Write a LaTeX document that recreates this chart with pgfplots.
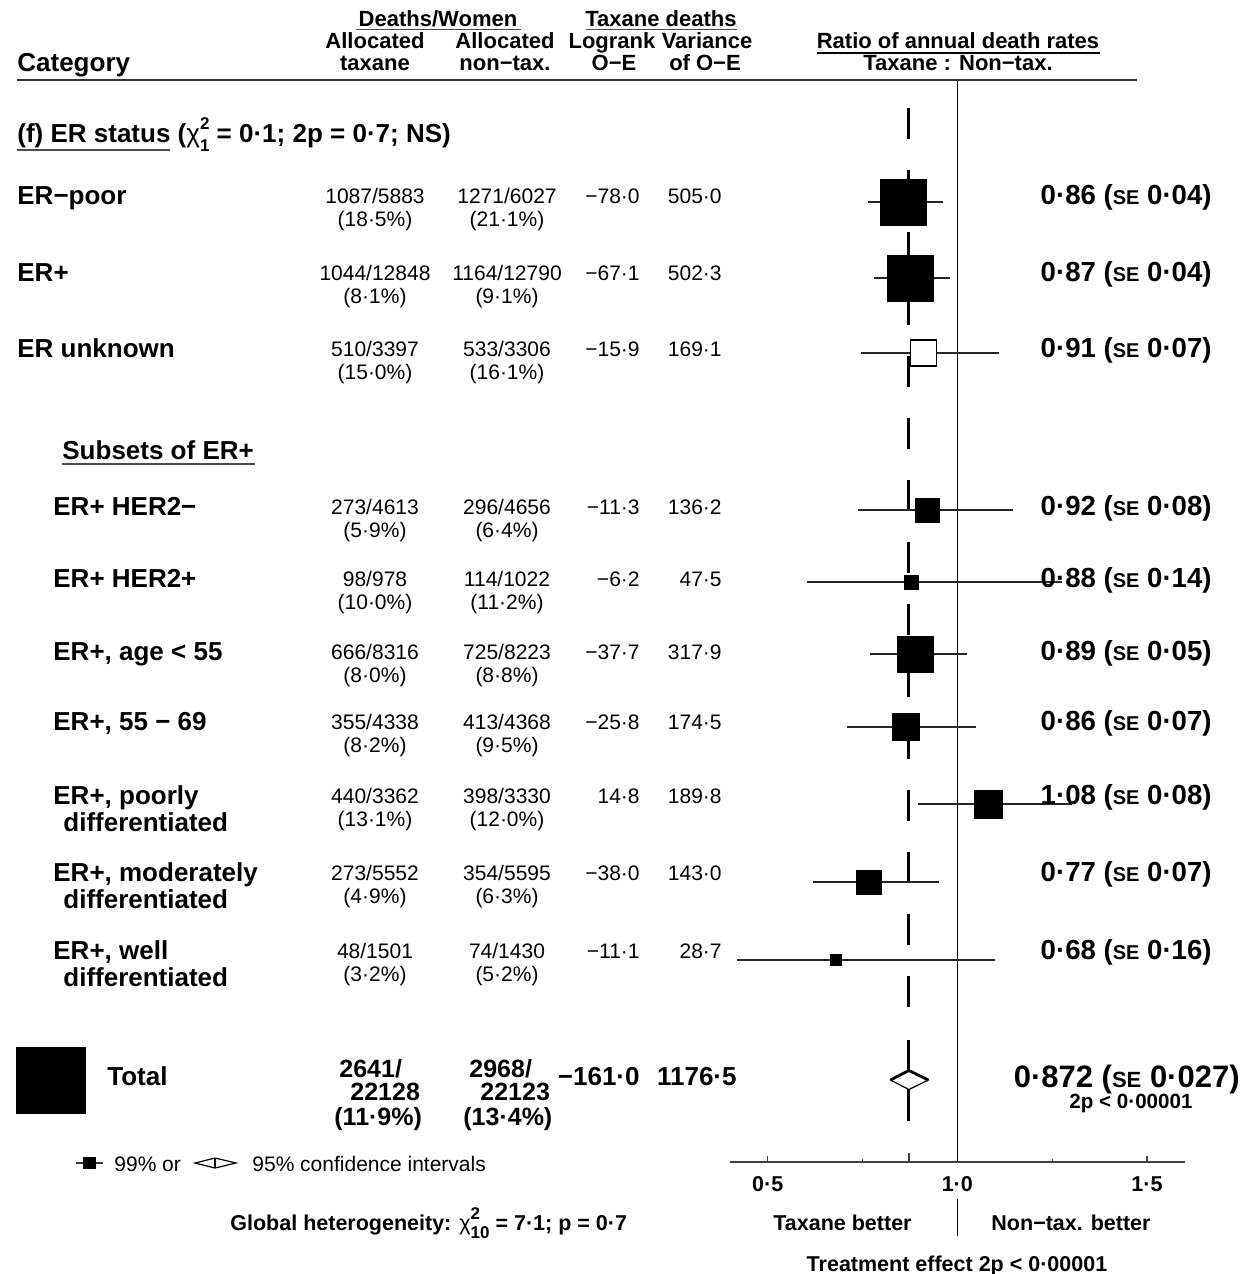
\documentclass[border=0pt]{standalone}
\usepackage{fontspec}
\setmainfont{Liberation Sans}
\usepackage{pgfplots}
\pgfplotsset{compat=1.18}
\newcommand\fs[1]{\fontsize{#1}{#1}\selectfont}
\newcommand\SE{{\fs{10}SE}}
\newcommand\SEb{{\fs{11}SE}}
% chi with stacked super/subscript
\newcommand\chis[2]{{\mdseries χ}\rlap{\raisebox{0.48em}{\fs{8.5}\bfseries #1}}\raisebox{-0.38em}{\fs{8.5}\bfseries #2}}
\tikzset{
 lab/.style={anchor=base west,inner sep=0,font={\fs{13}\bfseries}},
 tot/.style={anchor=base west,inner sep=0,font={\fs{12.5}\bfseries}},
 num/.style={anchor=base,inner sep=0,font={\fs{10.5}}},
 numr/.style={anchor=base east,inner sep=0,font={\fs{10.5}}},
 res/.style={anchor=base east,inner sep=0,font={\fs{13.8}\bfseries}},
 hd/.style={anchor=base,inner sep=0,font={\fs{11}\bfseries}},
 ax/.style={anchor=base,inner sep=0,font={\fs{10.75}\bfseries}},
}
\newcommand\nrow[7]{%
 \node[num] at (axis cs:375,#1) {#2};
 \node[num] at (axis cs:375,#1+23) {#3};
 \node[num] at (axis cs:507,#1) {#4};
 \node[num] at (axis cs:507,#1+23) {#5};
 \node[numr] at (axis cs:640,#1) {#6};
 \node[numr] at (axis cs:722,#1) {#7};}
\begin{document}
\begin{tikzpicture}
\useasboundingbox (0,0) rectangle (622.5pt,637pt);
% ---------------- data axis: ratio of annual death rates ----------------
\begin{axis}[at={(0,0)},anchor=south west,scale only axis,width=622.5pt,height=637pt,
 xmin=-1.52403,xmax=1.75837,ymin=0,ymax=1274,y dir=reverse,hide axis,clip=false]
 % overall estimate (dashed) and no-effect line
 \addplot[black,line width=1.5pt,dash pattern=on 15.5pt off 15.5pt] coordinates {(0.8721,108) (0.8721,1008)};
 \addplot[black,line width=1.5pt] coordinates {(0.8721,1040) (0.8721,1121)};
 \addplot[black,line width=0.7pt] coordinates {(1,80) (1,1162)};
 % bottom axis and ticks
 \addplot[black!75,line width=0.7pt] coordinates {(0.4,1162) (1.6,1162)};
 \addplot[black!75,line width=0.7pt] coordinates {(0.5,1156) (0.5,1162)};
 \addplot[black!75,line width=0.7pt] coordinates {(1.5,1156) (1.5,1162)};
 \addplot[black!75,line width=0.7pt] coordinates {(0.75,1159) (0.75,1162)};
 \addplot[black!75,line width=0.7pt] coordinates {(1.25,1159) (1.25,1162)};
 \addplot[black!75,line width=0.7pt] coordinates {(0.8721,1152.5) (0.8721,1162)};
 \addplot[black,line width=0.7pt] coordinates {(1,1199) (1,1236)};
 % 99% confidence intervals
 \addplot[black!85,line width=0.65pt] coordinates {(0.7641,202) (0.9610,202)};
 \addplot[black!85,line width=0.65pt] coordinates {(0.7800,278) (0.9815,278)};
 \addplot[black!85,line width=0.65pt] coordinates {(0.7467,353) (1.1097,353)};
 \addplot[black!85,line width=0.65pt] coordinates {(0.7381,510) (1.1477,510)};
 \addplot[black!85,line width=0.65pt] coordinates {(0.6039,582) (1.2754,582)};
 \addplot[black!85,line width=0.65pt] coordinates {(0.7687,654) (1.0262,654)};
 \addplot[black!85,line width=0.65pt] coordinates {(0.7097,727) (1.0483,727)};
 \addplot[black!85,line width=0.65pt] coordinates {(0.8967,804) (1.3034,804)};
 \addplot[black!85,line width=0.65pt] coordinates {(0.6181,882) (0.9509,882)};
 \addplot[black!85,line width=0.65pt] coordinates {(0.4200,960) (1.0987,960)};
 % boxes (area proportional to variance)
 \addplot[only marks,mark=square*,mark size=11.50pt,mark options={fill=black,draw=black,line width=0.2pt}] coordinates {(0.8569,202)};
 \addplot[only marks,mark=square*,mark size=11.47pt,mark options={fill=black,draw=black,line width=0.2pt}] coordinates {(0.8750,278)};
 \addplot[only marks,mark=square*,mark size=6.50pt,mark options={fill=white,draw=black,line width=0.6pt}] coordinates {(0.9103,353)};
 \addplot[only marks,mark=square*,mark size=5.97pt,mark options={fill=black,draw=black,line width=0.2pt}] coordinates {(0.9204,510)};
 \addplot[only marks,mark=square*,mark size=3.53pt,mark options={fill=black,draw=black,line width=0.2pt}] coordinates {(0.8776,582)};
 \addplot[only marks,mark=square*,mark size=9.13pt,mark options={fill=black,draw=black,line width=0.2pt}] coordinates {(0.8882,654)};
 \addplot[only marks,mark=square*,mark size=6.76pt,mark options={fill=black,draw=black,line width=0.2pt}] coordinates {(0.8626,727)};
 \addplot[only marks,mark=square*,mark size=7.05pt,mark options={fill=black,draw=black,line width=0.2pt}] coordinates {(1.0811,804)};
 \addplot[only marks,mark=square*,mark size=6.12pt,mark options={fill=black,draw=black,line width=0.2pt}] coordinates {(0.7666,882)};
 \addplot[only marks,mark=square*,mark size=2.74pt,mark options={fill=black,draw=black,line width=0.2pt}] coordinates {(0.6792,960)};
 % total: 95% CI diamond
 \addplot[fill=white,draw=black,line width=0.6pt] coordinates {(0.8237,1080) (0.8721,1070.5) (0.9234,1080) (0.8721,1089.5)} --cycle;
 \addplot[black,line width=1.4pt] coordinates {(0.8237,1080) (0.8721,1070.5) (0.9234,1080)};
\end{axis}
% ---------------- text axis (pixel units) ----------------
\begin{axis}[at={(0,0)},anchor=south west,scale only axis,width=622.5pt,height=637pt,
 xmin=0,xmax=1245,ymin=0,ymax=1274,y dir=reverse,hide axis,clip=false]
 % header
 \node[lab] at (axis cs:17,71) {Category};
 \node[hd] at (axis cs:438,26) {Deaths/Women};
 \draw[black!70,line width=0.6pt] (axis cs:356,29.5) -- (axis cs:521,29.5);
 \node[hd] at (axis cs:661,26) {Taxane deaths};
 \draw[black!70,line width=0.6pt] (axis cs:586,29.5) -- (axis cs:737,29.5);
 \node[hd] at (axis cs:375,48) {Allocated};
 \node[hd] at (axis cs:375,70) {taxane};
 \node[hd] at (axis cs:505,48) {Allocated};
 \node[hd] at (axis cs:505,70) {non−tax.};
 \node[hd] at (axis cs:612,48) {Logrank};
 \node[hd] at (axis cs:614,70) {O−E};
 \node[hd] at (axis cs:707,48) {Variance};
 \node[hd] at (axis cs:705,70) {of O−E};
 \node[hd] at (axis cs:958,48) {Ratio of annual death rates};
 \draw[black,line width=0.7pt] (axis cs:817,53) -- (axis cs:1100,53);
 \node[hd] at (axis cs:958,70) {Taxane : Non−tax.};
 \draw[black!80,line width=0.7pt] (axis cs:17,80) -- (axis cs:1137,80);
 % section heading
 \node[lab] at (axis cs:17,142) {(f) ER status (\chis{2}{1} = 0·1; 2p = 0·7; NS)};
 \draw[black!70,line width=0.7pt] (axis cs:17,150) -- (axis cs:170,150);
 \node[lab] at (axis cs:62,459) {Subsets of ER+};
 \draw[black!70,line width=0.7pt] (axis cs:62,464) -- (axis cs:255,464);
 % row labels
 \node[lab] at (axis cs:17,204) {ER−poor};
 \node[lab] at (axis cs:17,281) {ER+};
 \node[lab] at (axis cs:17,357) {ER unknown};
 \node[lab] at (axis cs:53,515) {ER+ HER2−};
 \node[lab] at (axis cs:53,587) {ER+ HER2+};
 \node[lab] at (axis cs:53,660) {ER+, age < 55};
 \node[lab] at (axis cs:53,730) {ER+, 55 − 69};
 \node[lab] at (axis cs:53,804) {ER+, poorly};
 \node[lab] at (axis cs:63,831) {differentiated};
 \node[lab] at (axis cs:53,881) {ER+, moderately};
 \node[lab] at (axis cs:63,908) {differentiated};
 \node[lab] at (axis cs:53,959) {ER+, well};
 \node[lab] at (axis cs:63,986) {differentiated};
 % numbers
 \nrow{203}{1087/5883}{(18·5\%)}{1271/6027}{(21·1\%)}{−78·0}{505·0}
 \nrow{280}{1044/12848}{(8·1\%)}{1164/12790}{(9·1\%)}{−67·1}{502·3}
 \nrow{356}{510/3397}{(15·0\%)}{533/3306}{(16·1\%)}{−15·9}{169·1}
 \nrow{514}{273/4613}{(5·9\%)}{296/4656}{(6·4\%)}{−11·3}{136·2}
 \nrow{586}{98/978}{(10·0\%)}{114/1022}{(11·2\%)}{−6·2}{47·5}
 \nrow{659}{666/8316}{(8·0\%)}{725/8223}{(8·8\%)}{−37·7}{317·9}
 \nrow{729}{355/4338}{(8·2\%)}{413/4368}{(9·5\%)}{−25·8}{174·5}
 \nrow{803}{440/3362}{(13·1\%)}{398/3330}{(12·0\%)}{14·8}{189·8}
 \nrow{880}{273/5552}{(4·9\%)}{354/5595}{(6·3\%)}{−38·0}{143·0}
 \nrow{958}{48/1501}{(3·2\%)}{74/1430}{(5·2\%)}{−11·1}{28·7}
 % results
 \node[res] at (axis cs:1212,204) {0·86 (\SE\ 0·04)};
 \node[res] at (axis cs:1212,281) {0·87 (\SE\ 0·04)};
 \node[res] at (axis cs:1212,357) {0·91 (\SE\ 0·07)};
 \node[res] at (axis cs:1212,515) {0·92 (\SE\ 0·08)};
 \node[res] at (axis cs:1212,587) {0·88 (\SE\ 0·14)};
 \node[res] at (axis cs:1212,660) {0·89 (\SE\ 0·05)};
 \node[res] at (axis cs:1212,730) {0·86 (\SE\ 0·07)};
 \node[res] at (axis cs:1212,804) {1·08 (\SE\ 0·08)};
 \node[res] at (axis cs:1212,881) {0·77 (\SE\ 0·07)};
 \node[res] at (axis cs:1212,959) {0·68 (\SE\ 0·16)};
 % total row
 \addplot[fill=black,draw=none] coordinates {(16,1047) (86,1047) (86,1114) (16,1114)} --cycle;
 \node[lab] at (axis cs:107,1085) {Total};
 \node[tot] at (axis cs:339,1077) {2641/};
 \node[tot] at (axis cs:350,1100) {22128};
 \node[tot] at (axis cs:334,1125) {(11·9\%)};
 \node[tot] at (axis cs:469,1077) {2968/};
 \node[tot] at (axis cs:480,1100) {22123};
 \node[tot] at (axis cs:463,1125) {(13·4\%)};
 \node[lab,anchor=base east] at (axis cs:640,1085) {−161·0};
 \node[lab,anchor=base east] at (axis cs:737,1085) {1176·5};
 \node[anchor=base east,inner sep=0,font={\fs{15.5}\bfseries}] at (axis cs:1240,1087) {0·872 (\SEb\ 0·027)};
 \node[anchor=base,inner sep=0,font={\fs{10.3}\bfseries}] at (axis cs:1131,1108) {2p < 0·00001};
 % legend
 \draw[black!80,line width=0.6pt] (axis cs:76,1163) -- (axis cs:103,1163);
 \addplot[fill=black,draw=none] coordinates {(83,1157) (96,1157) (96,1169) (83,1169)} --cycle;
 \node[anchor=base west,inner sep=0,font={\fs{10.5}}] at (axis cs:114,1171) {99\% or};
 \draw[black,line width=0.6pt] (axis cs:195,1163) -- (axis cs:215,1158) -- (axis cs:236,1163) -- (axis cs:215,1168) -- cycle;
 \draw[black,line width=0.6pt] (axis cs:215,1158) -- (axis cs:215,1168);
 \node[anchor=base west,inner sep=0,font={\fs{10.5}}] at (axis cs:252,1171) {95\% confidence intervals};
 \node[anchor=base west,inner sep=0,font={\fs{10.75}\bfseries}] at (axis cs:230,1230) {Global heterogeneity: \chis{2}{10} = 7·1; p = 0·7};
 % bottom axis labels
 \node[ax] at (axis cs:767.7,1191) {0·5};
 \node[ax] at (axis cs:957.3,1191) {1·0};
 \node[ax] at (axis cs:1147,1191) {1·5};
 \node[ax] at (axis cs:842.5,1230) {Taxane better};
 \node[ax] at (axis cs:1071,1230) {Non−tax. better};
 \node[ax] at (axis cs:957,1271) {Treatment effect 2p < 0·00001};
\end{axis}
\end{tikzpicture}
\end{document}
